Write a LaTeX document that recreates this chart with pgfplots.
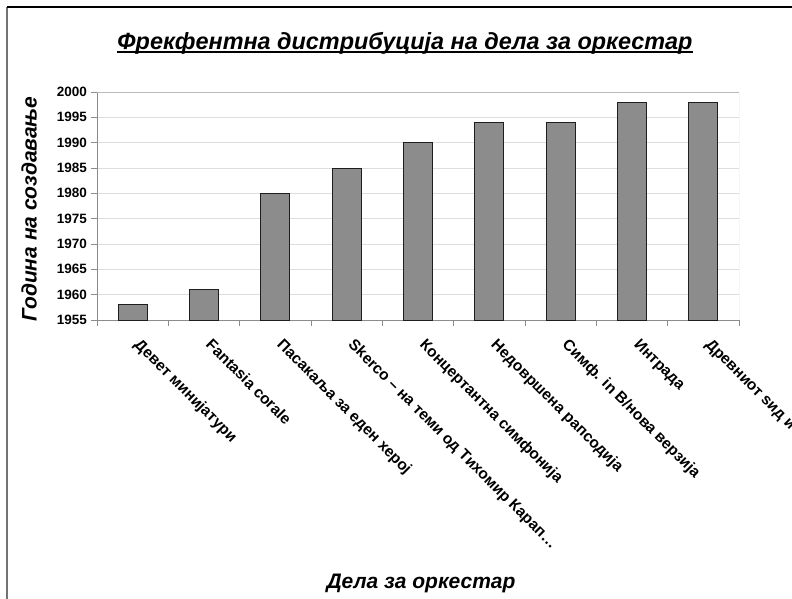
\documentclass[border=0pt]{standalone}
\usepackage{fontspec}
\setmainfont{Liberation Sans}
\usepackage{pgfplots}
\pgfplotsset{compat=1.18}
\definecolor{barfill}{RGB}{140,140,140}
\definecolor{baredge}{RGB}{30,30,30}
\definecolor{gridc}{RGB}{222,222,222}
\definecolor{framec}{RGB}{185,185,185}
\definecolor{axisc}{RGB}{140,140,140}
\newcommand\thickul[1]{\setbox0\hbox{#1}\rlap{\rule[-3.5pt]{\wd0}{2pt}}\box0}
\begin{document}
\begin{tikzpicture}[x=1pt,y=1pt]
\useasboundingbox (0,0) rectangle (792,598);
\clip (0,0) rectangle (792,598);
\fill[white] (0,0) rectangle (792,598);
\draw[black!55,line width=1.5pt] (7,-20) -- (7,591);
\draw[black,line width=1.2pt] (7,591) -- (820,591);
\begin{axis}[
  at={(97pt,278pt)}, anchor=south west,
  scale only axis, width=642pt, height=228pt,
  xmin=-0.5, xmax=8.5, ymin=1955, ymax=2000,
  axis x line*=bottom, axis y line*=left,
  axis line style={draw=axisc, line width=0.9pt},
  ytick={1955,1960,...,2000},
  xtick={-0.5,0.5,...,8.5},
  x tick label as interval=true,
  xticklabels={{Девет минијатури},{Fantasia corale},{Пасакаља за еден херој},{Skerco – на теми од Тихомир Карап\ldots},{Концертантна симфонија},{Недовршена рапсодија},{Симф. in B/нова верзија},{Интрада},{Древниот ѕид и ѕвездите}},
  tick align=outside, major tick length=6pt,
  tick style={draw=axisc, line width=0.8pt},
  ymajorgrids, grid style={draw=gridc, line width=0.8pt},
  /pgf/number format/assume math mode=true,
  /pgf/number format/1000 sep={},
  yticklabel style={font=\bfseries\fontsize{13.5}{13.5}\selectfont, inner sep=1pt, xshift=-3pt},
  xticklabel style={xshift=9pt, yshift=-10pt, rotate=-45, anchor=north west, font=\bfseries\fontsize{15.5}{15.5}\selectfont, inner sep=1pt},
  ylabel={Година на создавање},
  ylabel style={at={(rel axis cs:0,0.5)}, anchor=center, yshift=68pt, xshift=-3pt, font=\bfseries\itshape\fontsize{21}{22}\selectfont},
  xlabel={Дела за оркестар},
  xlabel style={at={(rel axis cs:0.5,0)}, yshift=-263pt, xshift=3pt, anchor=center, font=\bfseries\itshape\fontsize{21}{22}\selectfont},
  title={\thickul{Фрекфентна дистрибуција на дела за оркестар}},
  title style={at={(rel axis cs:0.5,1)}, yshift=43pt, xshift=-13pt, anchor=center, font=\bfseries\itshape\fontsize{23.4}{26}\selectfont},
  ybar, bar width=29pt,
  clip=true,
]
\addplot[fill=barfill, draw=baredge, line width=0.9pt] coordinates {
  (0,1958) (1,1961) (2,1980) (3,1985) (4,1990) (5,1994) (6,1994) (7,1998) (8,1998)
};
\draw[framec, line width=0.9pt] (rel axis cs:0,1) -- (rel axis cs:1,1) -- (rel axis cs:1,0);
\end{axis}
\end{tikzpicture}
\end{document}
